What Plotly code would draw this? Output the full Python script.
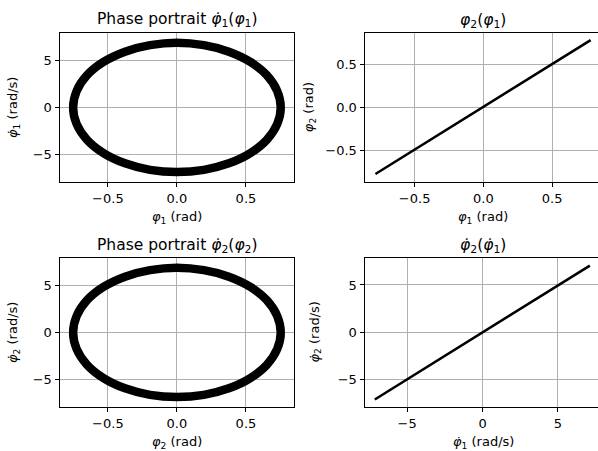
import plotly.graph_objects as go

# Phase-portrait trajectory (centre line of the drawn ring)
phi1 = [0.752, 0.726, 0.651, 0.532, 0.376, 0.195, 0.0, -0.195, -0.376, -0.532, -0.651, -0.726,
        -0.752, -0.726, -0.651, -0.532, -0.376, -0.195, 0.0, 0.195, 0.376, 0.532, 0.651, 0.726, 0.752]
dphi1 = [0.0, -1.77, -3.43, -4.84, -5.93, -6.62, -6.85, -6.62, -5.93, -4.84, -3.43, -1.77,
         0.0, 1.77, 3.43, 4.84, 5.93, 6.62, 6.88, 6.62, 5.93, 4.84, 3.43, 1.77, 0.0]
phi2 = list(phi1)
dphi2 = list(dphi1)

# In-phase relations (straight lines)
line_phi1 = [-0.785, 0.78]
line_phi2 = [-0.78, 0.787]
line_dphi1 = [-7.15, 7.12]
line_dphi2 = [-7.1, 7.05]

W, H = 598, 451
FONT = "DejaVu Sans"
RING_W = 8.5
LINE_W = 2.6

def px(x):
    return x / W

def py(y):
    return 1 - y / H

fig = go.Figure()

fig.add_trace(go.Scatter(x=phi1, y=dphi1, mode="lines", line=dict(color="black", width=RING_W, shape="spline"),
                         xaxis="x", yaxis="y", showlegend=False, hoverinfo="skip"))
fig.add_trace(go.Scatter(x=line_phi1, y=line_phi2, mode="lines", line=dict(color="black", width=LINE_W),
                         xaxis="x2", yaxis="y2", showlegend=False, hoverinfo="skip"))
fig.add_trace(go.Scatter(x=phi2, y=dphi2, mode="lines", line=dict(color="black", width=RING_W, shape="spline"),
                         xaxis="x3", yaxis="y3", showlegend=False, hoverinfo="skip"))
fig.add_trace(go.Scatter(x=line_dphi1, y=line_dphi2, mode="lines", line=dict(color="black", width=LINE_W),
                         xaxis="x4", yaxis="y4", showlegend=False, hoverinfo="skip"))

L_dom = [px(60), px(294)]
R_dom = [px(365), 1.0]
T_dom = [py(181.7), py(33.3)]
B_dom = [py(406.7), py(258.3)]

def ax(domain, rng, tickvals, fmt, anchor, mirror=True):
    return dict(domain=domain, range=rng, tickvals=tickvals, tickformat=fmt, anchor=anchor,
                showgrid=True, gridcolor="#b0b0b0", gridwidth=1, zeroline=False,
                showline=True, linecolor="black", linewidth=1, mirror=mirror,
                ticks="outside", ticklen=4.5, tickwidth=1, tickcolor="black",
                tickfont=dict(family=FONT, size=13, color="black"), fixedrange=True)

fig.update_layout(
    width=W, height=H,
    margin=dict(l=0, r=0, t=0, b=0),
    paper_bgcolor="white", plot_bgcolor="white",
    font=dict(family=FONT, color="black"),
    xaxis=ax(L_dom, [-0.847, 0.848], [-0.5, 0, 0.5], ".1f", "y"),
    yaxis=ax(T_dom, [-7.88, 7.88], [-5, 0, 5], "d", "x"),
    xaxis2=ax(R_dom, [-0.861, 0.8335], [-0.5, 0, 0.5], ".1f", "y2"),
    yaxis2=ax(T_dom, [-0.87, 0.867], [-0.5, 0, 0.5], ".1f", "x2", mirror=False),
    xaxis3=ax(L_dom, [-0.847, 0.848], [-0.5, 0, 0.5], ".1f", "y3"),
    yaxis3=ax(B_dom, [-7.88, 7.88], [-5, 0, 5], "d", "x3"),
    xaxis4=ax(R_dom, [-7.8, 7.66], [-5, 0, 5], "d", "y4"),
    yaxis4=ax(B_dom, [-7.86, 7.82], [-5, 0, 5], "d", "x4", mirror=False),
)

P1 = "<i>φ</i><sub>1</sub>"
P2 = "<i>φ</i><sub>2</sub>"
D1 = "<i>φ̇</i><sub>1</sub>"
D2 = "<i>φ̇</i><sub>2</sub>"

ann = []
def add(text, x, y, size, angle=0):
    ann.append(dict(text=text, x=px(x), y=py(y), xref="paper", yref="paper", showarrow=False,
                    xanchor="center", yanchor="middle", textangle=angle,
                    font=dict(family=FONT, size=size, color="black")))

TS = 15.5
LS = 13
add("Phase portrait " + D1 + "(" + P1 + ")", 177, 20.5, TS)
add(P2 + "(" + P1 + ")", 483, 21, TS)
add("Phase portrait " + D2 + "(" + P2 + ")", 177, 245.5, TS)
add(D2 + "(" + D1 + ")", 483, 245.5, TS)

add(P1 + " (rad)", 177, 217, LS)
add(P1 + " (rad)", 483, 217, LS)
add(P2 + " (rad)", 177, 442, LS)
add(D1 + " (rad/s)", 483, 442, LS)

add(D1 + " (rad/s)", 13.5, 107.5, LS, -90)
add(P2 + " (rad)", 309.5, 107.7, LS, -90)
add(D2 + " (rad/s)", 13.5, 332.5, LS, -90)
add(D2 + " (rad/s)", 315, 332.5, LS, -90)

fig.update_layout(annotations=ann)

fig.write_html("out.html", config={"displayModeBar": False},
               post_script="document.body.style.margin='0';document.body.style.overflow='hidden';")
